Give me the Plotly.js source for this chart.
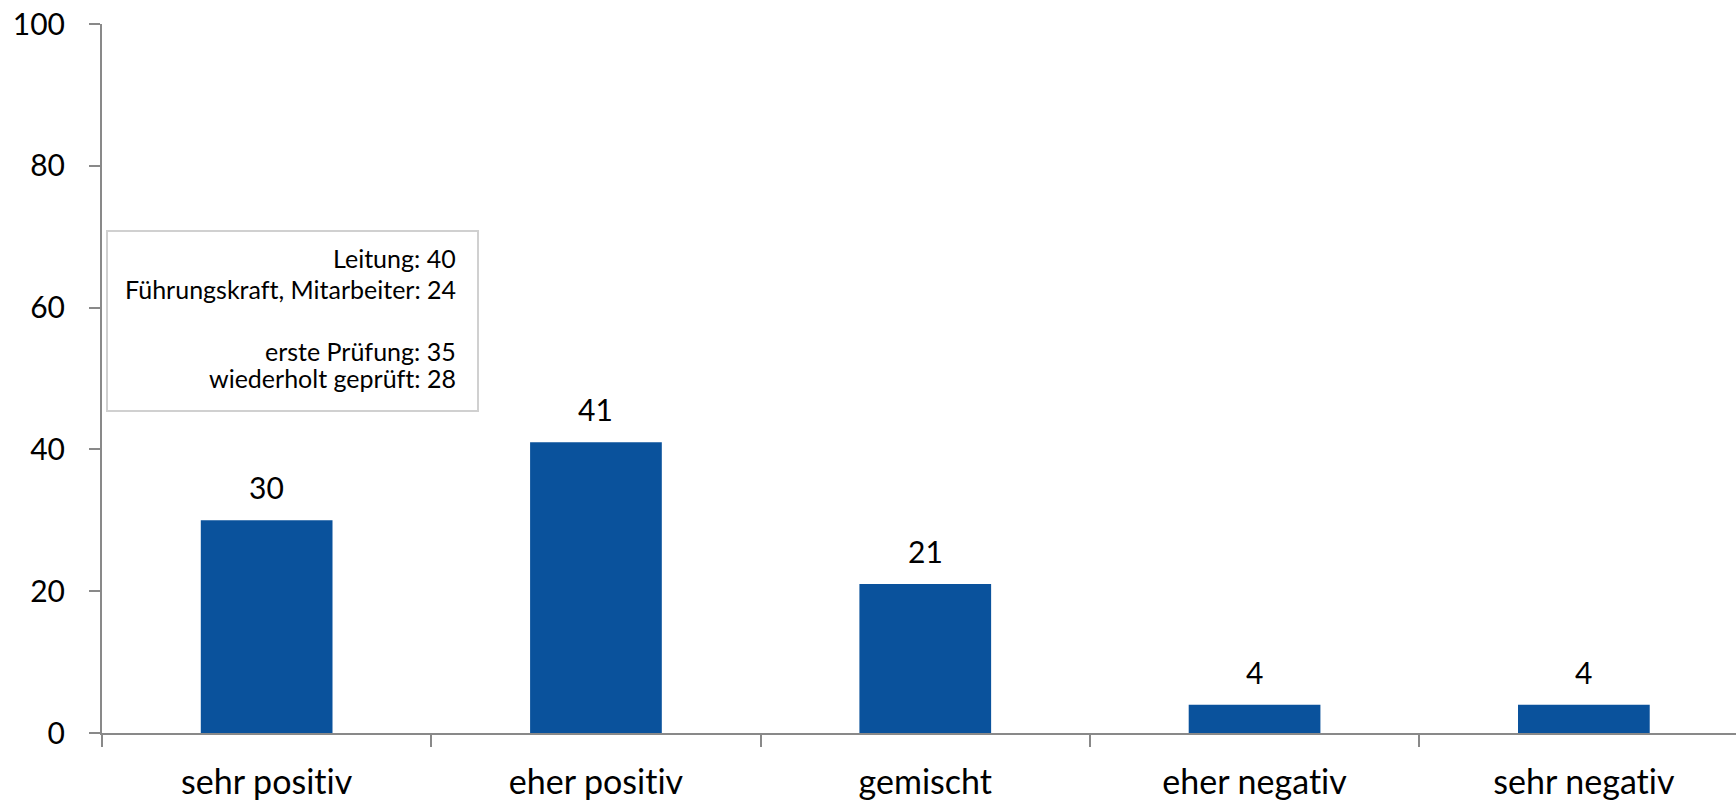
<!DOCTYPE html>
<html>
<head>
<meta charset="utf-8">
<script src="https://cdn.plot.ly/plotly-3.0.1.min.js"></script>
<style>html,body{margin:0;padding:0;background:#fff;}#chart{width:1736px;height:800px;}
svg text{font-variant-ligatures:none;font-feature-settings:"liga" 0,"clig" 0;}</style>
</head>
<body>
<div id="chart"></div>
<script>
const categories = ["sehr positiv", "eher positiv", "gemischt", "eher negativ", "sehr negativ"];
const values = [30, 41, 21, 4, 4];
const yTicks = [0, 20, 40, 60, 80, 100];
const boxLines = ["Leitung: 40", "Führungskraft, Mitarbeiter: 24", "", "erste Prüfung: 35", "wiederholt geprüft: 28"];

const W = 1736, H = 800;
const ml = 102, mr = 0, mt = 24, mb = 67;
const pw = W - ml - mr, ph = H - mt - mb;
const px = x => (x - ml) / pw;
const py = y => (H - mb - y) / ph;

const FONT = "Lato, 'Open Sans', sans-serif";

const annotations = categories.map((c, i) => ({
  x: c, y: values[i], xref: 'x', yref: 'y',
  text: String(values[i]), showarrow: false,
  yanchor: 'middle', yshift: 33,
  font: {family: FONT, size: 30, color: '#000'}
}));

const lineY = [258, 289, 320, 351, 378];
boxLines.forEach((t, i) => {
  if (!t) return;
  annotations.push({
    xref: 'paper', yref: 'paper', x: px(458), y: py(lineY[i]),
    xanchor: 'right', yanchor: 'middle', text: t, showarrow: false,
    align: 'right', font: {family: FONT, size: 25, color: '#000'}
  });
});

const layout = {
  width: W, height: H,
  margin: {l: ml, r: mr, t: mt, b: mb},
  paper_bgcolor: '#fff', plot_bgcolor: '#fff',
  showlegend: false,
  bargap: 0.6,
  xaxis: {
    type: 'category', categoryarray: categories,
    range: [-0.5, 4.462],
    showline: true, linecolor: '#898989', linewidth: 2,
    ticks: 'outside', tickson: 'boundaries', ticklen: 12, tickcolor: '#898989', tickwidth: 2,
    showgrid: false, zeroline: false,
    tickfont: {family: FONT, size: 34, color: '#000'},
    ticklabelstandoff: 18
  },
  yaxis: {
    range: [0, 100], tickvals: yTicks, ticktext: yTicks.map(String),
    showline: true, linecolor: '#898989', linewidth: 2,
    ticks: 'outside', ticklen: 11, tickcolor: '#898989', tickwidth: 2,
    showgrid: false, zeroline: false,
    tickfont: {family: FONT, size: 30, color: '#000'},
    ticklabelstandoff: 18
  },
  shapes: [{
    type: 'rect', xref: 'paper', yref: 'paper',
    x0: px(107), x1: px(478), y0: py(411), y1: py(231),
    line: {color: '#D0D0D0', width: 2}, fillcolor: '#fff', layer: 'above'
  }],
  annotations: annotations
};

Plotly.newPlot('chart', [{
  type: 'bar', x: categories, y: values,
  marker: {color: '#0A529C', line: {width: 0}},
  hoverinfo: 'none', cliponaxis: false
}], layout, {displayModeBar: false, staticPlot: true});
</script>
</body>
</html>
